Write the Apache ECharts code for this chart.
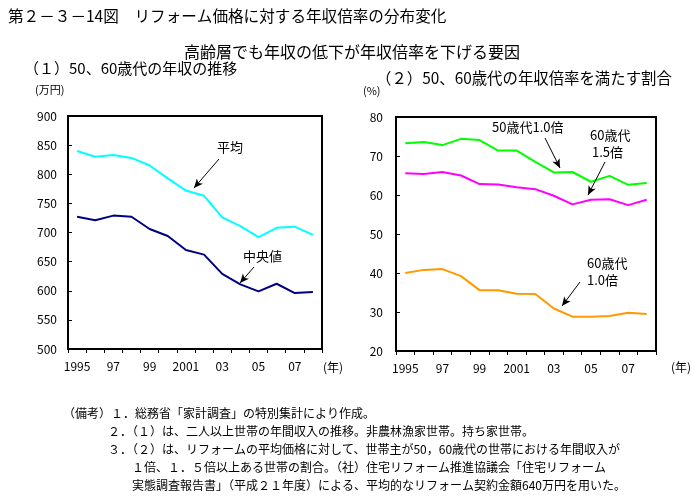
<!DOCTYPE html>
<html>
<head>
<meta charset="utf-8">
<script src="https://cdn.jsdelivr.net/npm/echarts@6/dist/echarts.min.js"></script>
<style>
html,body{margin:0;padding:0;background:#fff;}
#c{width:691px;height:497px;}
</style>
</head>
<body>
<div id="c"></div>
<script>
// ---- data ----
var years = ['1995','1996','1997','1998','1999','2000','2001','2002','2003','2004','2005','2006','2007','2008'];
var yearTickLabels = ['1995','','97','','99','','2001','','03','','05','','07',''];
var avgIncome    = [840, 830, 833, 828, 815, 793, 772, 763, 726, 711, 692, 708, 710, 696];
var medianIncome = [727, 721, 729, 727, 706, 694, 670, 662, 629, 611, 599, 612, 596, 598];
var share50s10 = [73.3, 73.6, 72.8, 74.4, 74.1, 71.4, 71.4, 68.5, 65.8, 65.9, 63.4, 64.9, 62.6, 63.1];
var share60s15 = [65.6, 65.4, 65.9, 65.0, 62.8, 62.7, 62.0, 61.5, 59.8, 57.6, 58.8, 58.9, 57.4, 58.8];
var share60s10 = [40.0, 40.8, 41.0, 39.2, 35.6, 35.6, 34.7, 34.6, 30.9, 28.8, 28.8, 29.0, 29.8, 29.5];

var FONT = '"Noto Sans CJK JP", "Noto Sans", sans-serif';
var chart = echarts.init(document.getElementById('c'), null, {renderer:'canvas'});

function xAxisCfg(gridIndex){
  return {
    type:'category', gridIndex:gridIndex, data:years, boundaryGap:true,
    axisLine:{show:true, lineStyle:{color:'#000', width:2}},
    axisTick:{show:true, interval:0, length:4, lineStyle:{color:'#000', width:1}},
    axisLabel:{interval:0, margin:11, color:'#000', fontSize:12, fontFamily:FONT,
      formatter:function(v, i){ return yearTickLabels[i]; }},
    splitLine:{show:false}
  };
}
function yAxisCfg(gridIndex, min, max, interval, margin){
  return {
    type:'value', gridIndex:gridIndex, min:min, max:max, interval:interval,
    axisLine:{show:true, lineStyle:{color:'#000', width:2}},
    axisTick:{show:true, inside:true, length:4, lineStyle:{color:'#000', width:1}},
    axisLabel:{margin:margin, color:'#000', fontSize:12, fontFamily:FONT},
    splitLine:{show:false}
  };
}
function arrow(x1,y1,x2,y2){
  return [{x:x1,y:y1,symbol:'none'},{x:x2,y:y2,symbol:'arrow'}];
}
function ml(list){
  return {silent:true, symbol:['none','arrow'], symbolSize:[6,9], animation:false,
    lineStyle:{color:'#000', width:1, type:'solid'}, label:{show:false},
    emphasis:{disabled:true}, data:list};
}
function txt(x,y,s,size,align){
  return {type:'text', x:x, y:y, style:{text:s, fill:'#000', font:(size||12)+'px '+FONT,
    textAlign:align||'left', textVerticalAlign:'middle'}};
}

var option = {
  animation:false,
  backgroundColor:'#fff',
  grid:[
    {left:68, top:116, width:254, height:233, show:true, borderColor:'#000', borderWidth:2, backgroundColor:'transparent'},
    {left:396, top:117, width:260, height:234, show:true, borderColor:'#000', borderWidth:2, backgroundColor:'transparent'}
  ],
  xAxis:[xAxisCfg(0), xAxisCfg(1)],
  yAxis:[yAxisCfg(0,500,900,50,11), yAxisCfg(1,20,80,10,13)],
  series:[
    {name:'平均', type:'line', xAxisIndex:0, yAxisIndex:0, data:avgIncome, symbol:'none',
      lineStyle:{color:'#00FFFF', width:2}, itemStyle:{color:'#00FFFF'},
      markLine:ml([arrow(219,159,194,188)])},
    {name:'中央値', type:'line', xAxisIndex:0, yAxisIndex:0, data:medianIncome, symbol:'none',
      lineStyle:{color:'#000080', width:2}, itemStyle:{color:'#000080'},
      markLine:ml([arrow(254,267,240,283)])},
    {name:'50歳代1.0倍', type:'line', xAxisIndex:1, yAxisIndex:1, data:share50s10, symbol:'none',
      lineStyle:{color:'#00FF00', width:2}, itemStyle:{color:'#00FF00'},
      markLine:ml([arrow(545,138,560,168)])},
    {name:'60歳代1.5倍', type:'line', xAxisIndex:1, yAxisIndex:1, data:share60s15, symbol:'none',
      lineStyle:{color:'#FF00FF', width:2}, itemStyle:{color:'#FF00FF'},
      markLine:ml([arrow(605,162,588,195)])},
    {name:'60歳代1.0倍', type:'line', xAxisIndex:1, yAxisIndex:1, data:share60s10, symbol:'none',
      lineStyle:{color:'#FF9900', width:2}, itemStyle:{color:'#FF9900'},
      markLine:ml([arrow(580,282,562,306)])}
  ],
  graphic:[
    txt(8,16,'第２－３－14図　リフォーム価格に対する年収倍率の分布変化',15.6),
    txt(352,52,'高齢層でも年収の低下が年収倍率を下げる要因',16,'center'),
    txt(24,68,'（１）50、60歳代の年収の推移',15),
    txt(376,78,'（２）50、60歳代の年収倍率を満たす割合',15.4),
    txt(35,90,'(万円)',11),
    txt(363,91,'(%)',11),
    txt(323,367,'(年)',12),
    txt(671,367,'(年)',12),
    txt(217,147,'平均',13),
    txt(243,256,'中央値',13),
    txt(492,127,'50歳代1.0倍',13),
    txt(590,135,'60歳代',13),
    txt(592,152,'1.5倍',13),
    txt(587,263,'60歳代',13),
    txt(587,280,'1.0倍',13),
    txt(63,413,'（備考）１．総務省「家計調査」の特別集計により作成。',12),
    txt(108,431,'２．（１）は、二人以上世帯の年間収入の推移。非農林漁家世帯。持ち家世帯。',12),
    txt(108,449,'３．（２）は、リフォームの平均価格に対して、世帯主が50，60歳代の世帯における年間収入が',12),
    txt(132,467,'１倍、１．５倍以上ある世帯の割合。（社）住宅リフォーム推進協議会「住宅リフォーム',12),
    txt(132,485,'実態調査報告書」（平成２１年度）による、平均的なリフォーム契約金額640万円を用いた。',12)
  ]
};
chart.setOption(option);
</script>
</body>
</html>
